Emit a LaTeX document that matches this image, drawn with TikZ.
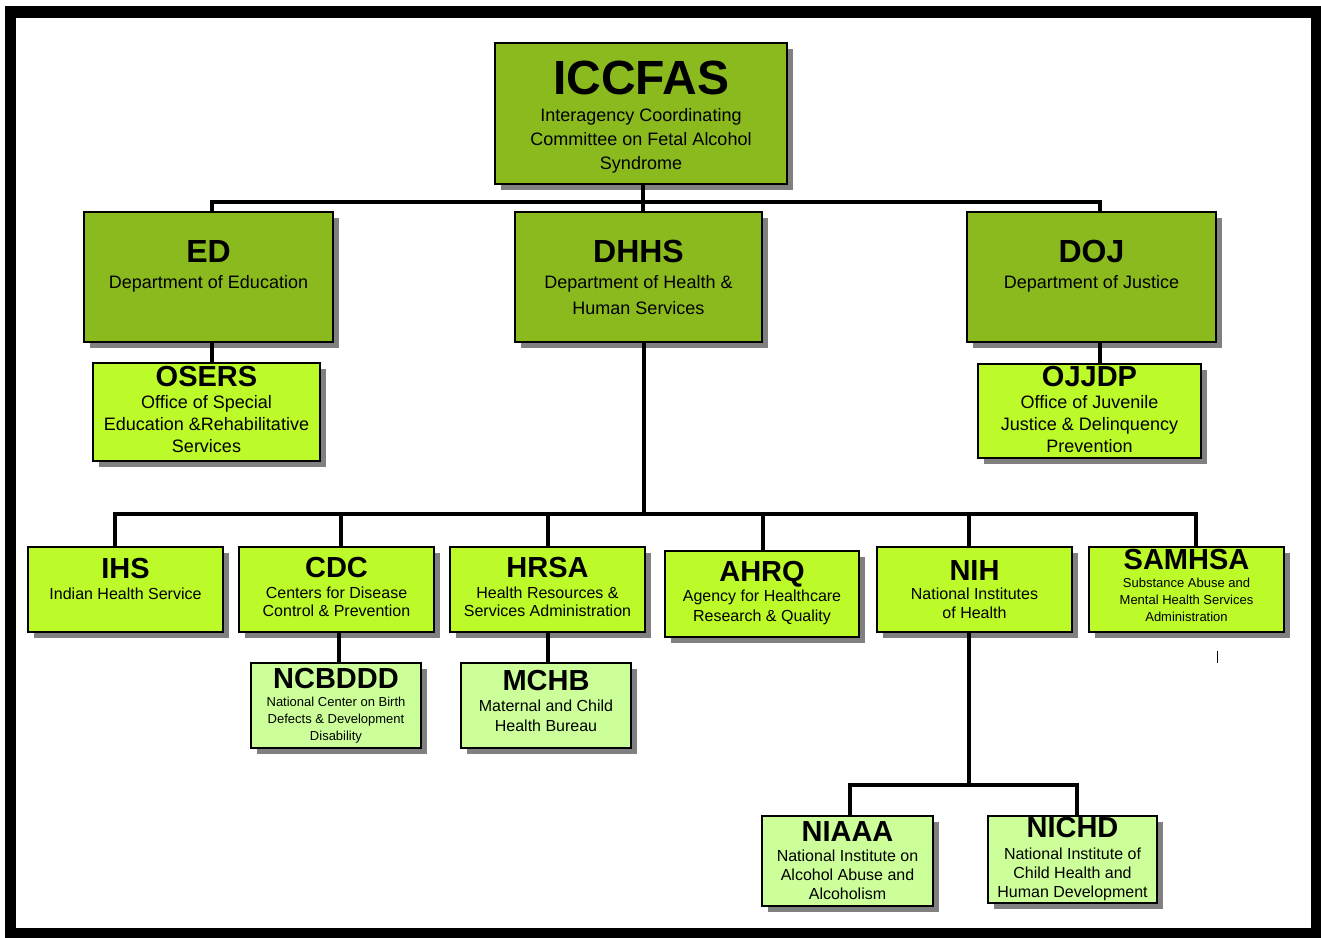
\documentclass[tikz,border=0pt]{standalone}
\usepackage{fontspec}
\setmainfont{Liberation Sans}
\usepackage{xcolor}
\usepackage{tikz}
\usetikzlibrary{positioning, shadows, calc}

\definecolor{deptgreen}{RGB}{139,186,31}
\definecolor{agencylime}{RGB}{188,250,42}
\definecolor{officegreen}{RGB}{204,255,153}
\definecolor{shadowgray}{RGB}{128,128,128}

\newcommand{\acro}[2]{{\fontsize{#1}{#1}\selectfont\bfseries #2}}
% empty last line, lifts the text block inside its box
\newcommand{\lift}[1]{\\[#1]\mbox{}}

\begin{document}
\begin{tikzpicture}[
        x=1pt, y=-1pt,
        box/.style={draw=black, line width=1.5pt, align=center, inner sep=1pt,
            general shadow={fill=shadowgray, shadow xshift=6pt, shadow yshift=-6pt}},
        dept/.style={box, fill=deptgreen, minimum width=249pt, minimum height=130pt, font=\fontsize{18}{26}\selectfont},
        agency/.style={box, fill=agencylime, minimum width=195pt, minimum height=85pt, font=\fontsize{16}{18}\selectfont},
        office/.style={box, fill=officegreen, minimum width=170pt, minimum height=85pt, font=\fontsize{16}{20}\selectfont},
        conn/.style={line width=4pt},
    ]

    \useasboundingbox (0,0) rectangle (1321,937);
    % outer frame
    \draw[line width=11.5pt] (10.5,12) rectangle (1316.5,933.5);

    % === TOP ===
    \node[dept, minimum width=292pt, minimum height=141pt, font=\fontsize{18}{24}\selectfont] (iccfas) at (641,113.5)
        {\acro{48}{\rule{0pt}{40pt}ICCFAS}\\[3pt] Interagency Coordinating\\ Committee on Fetal Alcohol\\ Syndrome};

    % === DEPARTMENTS ===
    \node[dept] (ed) at (208.5,277) {\acro{32}{ED}\\ Department of Education\\ \mbox{}};
    \node[dept, minimum width=247pt] (dhhs) at (638.5,277) {\acro{32}{DHHS}\\ Department of Health \&\\ Human Services};
    \node[dept] (doj) at (1091.5,277) {\acro{32}{DOJ}\\ Department of Justice\\ \mbox{}};

    % offices under ED and DOJ
    \node[agency, minimum width=227pt, minimum height=98pt, font=\fontsize{18}{22}\selectfont] (osers) at (206.5,412)
        {\acro{29}{OSERS}\\ Office of Special\\ Education \&Rehabilitative\\ Services\lift{-16pt}};
    \node[agency, minimum width=223pt, minimum height=94pt, font=\fontsize{18}{22}\selectfont] (ojjdp) at (1089.5,411)
        {\acro{29}{OJJDP}\\ Office of Juvenile\\ Justice \& Delinquency\\ Prevention\lift{-18pt}};

    % === DHHS AGENCIES ===
    \node[agency] (ihs) at (125.5,589.5) {\acro{29}{IHS}\\[3pt] Indian Health Service\lift{4pt}};
    \node[agency] (cdc) at (336.5,589.5) {\acro{29}{CDC}\\[3pt] Centers for Disease\\ Control \& Prevention\lift{-12pt}};
    \node[agency] (hrsa) at (547.5,589.5) {\acro{29}{HRSA}\\[3pt] Health Resources \&\\ Services Administration\lift{-12pt}};
    \node[agency, minimum width=194pt, minimum height=86pt, font=\fontsize{16}{20}\selectfont] (ahrq) at (762,594)
        {\acro{29}{AHRQ}\\ Agency for Healthcare\\ Research \& Quality\lift{-14pt}};
    \node[agency, font=\fontsize{16}{19}\selectfont] (nih) at (974.5,589.5) {\acro{29}{NIH}\\ National Institutes\\ of Health};
    \node[agency, font=\fontsize{13}{17}\selectfont] (samhsa) at (1186.5,589.5)
        {\acro{29}{SAMHSA}\\[1pt] Substance Abuse and\\ Mental Health Services\\ Administration\lift{-9pt}};

    % === CENTERS / BUREAUS / INSTITUTES ===
    \node[office, font=\fontsize{13}{17}\selectfont] (ncbddd) at (336,705.5)
        {\acro{29}{NCBDDD}\\[1pt] National Center on Birth\\ Defects \& Development\\ Disability};
    \node[office] (mchb) at (546,705.5) {\acro{29}{MCHB}\\[1pt] Maternal and Child\\ Health Bureau\lift{-10pt}};
    \node[office, minimum width=171pt, minimum height=90pt, font=\fontsize{16}{19}\selectfont] (niaaa) at (847.5,861)
        {\acro{29}{NIAAA}\\[1pt] National Institute on\\ Alcohol Abuse and\\ Alcoholism};
    \node[office, minimum width=169pt, minimum height=87pt, font=\fontsize{16}{19}\selectfont] (nichd) at (1072.5,859.5)
        {\acro{29}{NICHD}\\[3pt] National Institute of\\ Child Health and\\ Human Development};

    % === CONNECTORS ===
    \draw[conn] ([xshift=2pt]iccfas.south) -- ++(0,17) coordinate (bus1);
    \draw[conn] ([xshift=3pt]ed.north) |- (bus1) -| ([xshift=8pt]doj.north);
    \draw[conn] (bus1) -- (bus1 |- dhhs.north);
    \draw[conn] ([xshift=3pt]ed.south) -- ([xshift=3pt]ed.south |- osers.north);
    \draw[conn] ([xshift=8pt]doj.south) -- ([xshift=8pt]doj.south |- ojjdp.north);

    \draw[conn] ([xshift=5pt]dhhs.south) -- ++(0,171) coordinate (bus2);
    \draw[conn] ([xshift=-11pt]ihs.north) |- (bus2) -| ([xshift=9pt]samhsa.north);
    \foreach \n/\dx in {cdc/4, hrsa/0, ahrq/1, nih/-6}
        \draw[conn] ([xshift=\dx pt]\n.north) -- ([xshift=\dx pt]\n.north |- bus2);
    \draw[conn] ([xshift=2pt]cdc.south) -- ([xshift=2pt]cdc.south |- ncbddd.north);
    \draw[conn] (hrsa.south) -- (hrsa.south |- mchb.north);

    \draw[conn] ([xshift=-6pt]nih.south) -- ++(0,152) coordinate (bus3);
    \draw[conn] ([xshift=2pt]niaaa.north) |- (bus3) -| ([xshift=4pt]nichd.north);

    % stray tick
    \draw[line width=1pt] (1217,651) -- (1217,663);

\end{tikzpicture}
\end{document}
